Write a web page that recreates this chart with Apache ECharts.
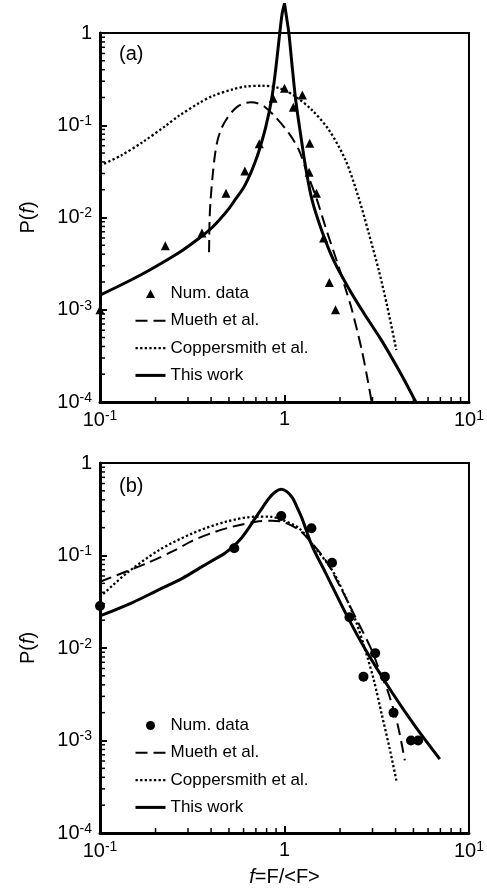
<!DOCTYPE html>
<html><head><meta charset="utf-8">
<script src="https://cdn.jsdelivr.net/npm/echarts@6/dist/echarts.min.js"></script>
<style>html,body{margin:0;padding:0;background:#fff}#c{width:487px;height:892px}</style>
</head><body><div id="c"></div>
<script>
// ---- tick values ----
const xTickValues = [0.1, 1, 10];
const yTickValues = [1e-4, 1e-3, 1e-2, 1e-1, 1];
const minorTicksX = [0.2,0.3,0.4,0.5,0.6,0.7,0.8,0.9,2,3,4,5,6,7,8,9];
const minorTicksY = [2e-4,3e-4,4e-4,5e-4,6e-4,7e-4,8e-4,9e-4,
                     2e-3,3e-3,4e-3,5e-3,6e-3,7e-3,8e-3,9e-3,
                     0.02,0.03,0.04,0.05,0.06,0.07,0.08,0.09,
                     0.2,0.3,0.4,0.5,0.6,0.7,0.8,0.9];

// ---- panel (a) ----
const numDataA = [[0.1,1.0e-3],[0.226,4.95e-3],[0.357,6.8e-3],[0.482,0.0183],[0.61,0.032],[0.73,0.063],
  [0.868,0.196],[1.0,0.252],[1.116,0.157],[1.25,0.213],[1.37,0.064],[1.36,0.031],[1.49,0.0183],
  [1.63,6.0e-3],[1.75,1.97e-3],[1.89,1.0e-3]];
const muethA = [[0.39,4.2e-3],[0.391,0.006],[0.393,0.0101],[0.398,0.016],[0.409,0.03],[0.42,0.048],
  [0.434,0.069],[0.455,0.092],[0.482,0.114],[0.52,0.14],[0.556,0.159],[0.6,0.172],[0.657,0.177],
  [0.72,0.172],[0.78,0.159],[0.89,0.124],[1.056,0.082],[1.196,0.054],[1.33,0.030],[1.5,0.0155],
  [1.7,7.0e-3],[1.97,2.9e-3],[2.14,1.7e-3],[2.32,1.0e-3],[2.62,3.7e-4],[2.8,1.9e-4],[2.97,1.0e-4]];
const copperA = [[0.1,0.0365],[0.13,0.047],[0.171,0.066],[0.229,0.1],[0.27,0.128],[0.346,0.175],
  [0.409,0.208],[0.524,0.245],[0.617,0.263],[0.76,0.268],[0.94,0.252],[1.15,0.204],[1.41,0.146],
  [1.74,0.089],[2.14,0.042],[2.52,0.0165],[2.86,6.8e-3],[3.24,2.7e-3],[3.6,1.1e-3],[4.04,3.66e-4]];
const thisWorkA_left = [[0.1,1.44e-3],[0.14,2.0e-3],[0.186,2.7e-3],[0.27,4.2e-3],[0.346,6.0e-3],
  [0.4,7.6e-3],[0.443,9.4e-3],[0.5,0.0125],[0.545,0.016],[0.6,0.021],[0.643,0.0277],[0.69,0.039],
  [0.73,0.054],[0.79,0.094],[0.85,0.188],[0.89,0.36],[0.94,0.95],[0.97,1.6],[1.0,2.1]];
const thisWorkA_right = [[1.0,2.1],[1.025,1.5],[1.056,1.0],[1.105,0.40],[1.15,0.188],[1.22,0.082],
  [1.30,0.0356],[1.41,0.0155],[1.6,7.0e-3],[1.85,3.4e-3],[2.25,1.65e-3],[2.75,8.6e-4],[3.37,4.6e-4],
  [4.2,2.15e-4],[5.15,1.0e-4]];

// ---- panel (b) ----
const numDataB = [[0.1,0.0284],[0.534,0.12],[0.96,0.267],[1.40,0.197],[1.81,0.0836],[2.25,0.0215],
  [2.68,4.9e-3],[3.1,8.8e-3],[3.5,4.9e-3],[3.9,2.0e-3],[4.85,1.0e-3],[5.3,1.0e-3]];
const muethB = [[0.1,0.052],[0.178,0.082],[0.25,0.112],[0.318,0.145],[0.42,0.18],[0.524,0.205],
  [0.70,0.232],[0.85,0.238],[0.975,0.232],[1.2,0.189],[1.36,0.147],[1.67,0.089],[2.05,0.042],
  [2.42,0.0217],[2.97,9.5e-3],[3.24,6.0e-3],[3.65,3.3e-3],[4.1,1.5e-3],[4.49,6.1e-4]];
const copperB = [[0.1,0.0355],[0.139,0.064],[0.21,0.115],[0.318,0.174],[0.482,0.232],[0.70,0.263],
  [0.85,0.262],[0.975,0.242],[1.2,0.197],[1.47,0.12],[1.81,0.0697],[2.14,0.036],[2.45,0.019],
  [2.74,9.5e-3],[3.05,4.5e-3],[3.37,1.9e-3],[3.7,8.5e-4],[4.04,3.7e-4]];
const thisWorkB = [[0.1,0.0222],[0.15,0.031],[0.2,0.041],[0.281,0.057],[0.346,0.073],[0.426,0.093],
  [0.475,0.106],[0.524,0.124],[0.58,0.152],[0.64,0.198],[0.7,0.26],[0.76,0.33],[0.82,0.41],
  [0.89,0.485],[0.96,0.52],[1.03,0.49],[1.105,0.42],[1.18,0.32],[1.25,0.246],[1.41,0.127],
  [1.67,0.065],[2.14,0.024],[2.74,9.7e-3],[3.83,3.3e-3],[5.08,1.45e-3],[6.95,6.3e-4]];

const FONT = 'Liberation Sans, Arial, Helvetica, sans-serif';
const BLACK = '#000';
const DASH = [12, 6];
const DOT = [2.3, 2.3];
const TRI_ICON = 'path://M0,0M30,9M10.5,9L15,0.5L19.5,9Z';

function expLabel(v) {
  const e = Math.round(Math.log10(v));
  if (e === 0) return '1';
  return '{b|10}{s|' + e + '}';
}
const labelRich = {
  b: {fontSize: 20, fontFamily: FONT, color: BLACK, lineHeight: 22},
  s: {fontSize: 14, fontFamily: FONT, color: BLACK, verticalAlign: 'top', lineHeight: 14}
};

function xAxisCfg(gi, withName) {
  const c = {
    type: 'log', logBase: 10, gridIndex: gi, min: xTickValues[0], max: xTickValues[xTickValues.length - 1],
    axisLine: {show: true, onZero: false, lineStyle: {color: BLACK, width: 3}},
    axisTick: {show: true, inside: true, length: 7, lineStyle: {color: BLACK, width: 2}},
    axisLabel: {formatter: expLabel, margin: 7, color: BLACK, fontFamily: FONT, fontSize: 20, rich: labelRich},
    splitLine: {show: false}
  };
  if (withName) {
    c.name = '{i|f}{n|=F/<F>}';
    c.nameLocation = 'middle';
    c.nameGap = 34;
    c.nameTextStyle = {rich: {
      i: {fontSize: 20, fontFamily: FONT, fontStyle: 'italic', color: BLACK},
      n: {fontSize: 20, fontFamily: FONT, color: BLACK}
    }};
  }
  return c;
}
function yAxisCfg(gi) {
  return {
    type: 'log', logBase: 10, gridIndex: gi, min: yTickValues[0], max: yTickValues[yTickValues.length - 1],
    axisLine: {show: true, onZero: false, lineStyle: {color: BLACK, width: 3}},
    axisTick: {show: true, inside: true, length: 7, lineStyle: {color: BLACK, width: 2}},
    axisLabel: {formatter: expLabel, margin: 8, color: BLACK, fontFamily: FONT, fontSize: 20, rich: labelRich},
    splitLine: {show: false},
    name: '{n|P(}{i|f}{n|)}', nameLocation: 'middle', nameGap: 62, nameRotate: 90,
    nameTextStyle: {rich: {
      n: {fontSize: 20, fontFamily: FONT, color: BLACK},
      i: {fontSize: 20, fontFamily: FONT, fontStyle: 'italic', color: BLACK}
    }}
  };
}

function tickSeries(gi) {
  const data = minorTicksX.map(v => [v, yTickValues[0], 0])
    .concat(minorTicksY.map(v => [xTickValues[0], v, 1]));
  return {
    type: 'custom', xAxisIndex: gi, yAxisIndex: gi, data: data, clip: false, silent: true, z: 5,
    encode: {x: 0, y: 1},
    renderItem: function (params, api) {
      const p = api.coord([api.value(0), api.value(1)]);
      const k = api.value(2);
      const len = 5;
      return {
        type: 'line',
        shape: k === 0 ? {x1: p[0], y1: p[1], x2: p[0], y2: p[1] - len}
                       : {x1: p[0], y1: p[1], x2: p[0] + len, y2: p[1]},
        style: {stroke: BLACK, lineWidth: 1.5}
      };
    }
  };
}

function lineS(name, data, gi, width, type, extra) {
  return Object.assign({
    name: name, type: 'line', xAxisIndex: gi, yAxisIndex: gi, data: data,
    symbol: 'none', smooth: 0.3,
    lineStyle: {color: BLACK, width: width, type: type, cap: 'butt'},
    itemStyle: {color: BLACK}, z: 3
  }, extra || {});
}
function scatterS(name, data, gi, symbol) {
  return {
    name: name, type: 'scatter', xAxisIndex: gi, yAxisIndex: gi, data: data,
    symbol: symbol, symbolSize: symbol === 'triangle' ? 9 : 10,
    itemStyle: {color: BLACK, opacity: 1}, z: 4
  };
}

function legendCfg(top, icon) {
  const hidden = {color: 'rgba(0,0,0,0)', borderWidth: 0, opacity: 0};
  return {
    orient: 'vertical', left: 134, top: top, itemWidth: 30, itemHeight: 9, itemGap: 10.3, padding: 0,
    selectedMode: false, inactiveColor: BLACK,
    textStyle: {fontSize: 17, fontFamily: FONT, color: BLACK, lineHeight: 17},
    data: [
      {name: 'Num. data', icon: icon, itemStyle: {color: BLACK}},
      {name: 'Mueth et al.', itemStyle: hidden, lineStyle: {width: 2, type: DASH, color: BLACK}},
      {name: 'Coppersmith et al.', itemStyle: hidden, lineStyle: {width: 2.3, type: DOT, color: BLACK}},
      {name: 'This work', itemStyle: hidden, lineStyle: {width: 3, type: 'solid', color: BLACK}}
    ]
  };
}

const chart = echarts.init(document.getElementById('c'), null, {renderer: 'canvas'});
chart.setOption({
  animation: false,
  backgroundColor: '#fff',
  grid: [
    {left: 100, top: 33, width: 371, height: 369, show: true, borderColor: BLACK, borderWidth: 2, backgroundColor: 'transparent'},
    {left: 100, top: 463, width: 371, height: 370, show: true, borderColor: BLACK, borderWidth: 2, backgroundColor: 'transparent'}
  ],
  xAxis: [xAxisCfg(0, false), xAxisCfg(1, true)],
  yAxis: [yAxisCfg(0), yAxisCfg(1)],
  legend: [legendCfg(285, TRI_ICON), legendCfg(717, 'circle')],
  graphic: [
    {type: 'text', left: 119, top: 44, style: {text: '(a)', font: '20px ' + FONT, fill: BLACK}},
    {type: 'text', left: 119, top: 476, style: {text: '(b)', font: '20px ' + FONT, fill: BLACK}}
  ],
  series: [
    tickSeries(0), tickSeries(1),
    scatterS('Num. data', numDataA, 0, 'triangle'),
    lineS('Mueth et al.', muethA, 0, 2, DASH),
    lineS('Coppersmith et al.', copperA, 0, 2.3, DOT),
    lineS('This work', thisWorkA_left, 0, 3, 'solid', {clip: false}),
    lineS('This work', thisWorkA_right, 0, 3, 'solid', {clip: false}),
    scatterS('Num. data', numDataB, 1, 'circle'),
    lineS('Mueth et al.', muethB, 1, 2, DASH),
    lineS('Coppersmith et al.', copperB, 1, 2.3, DOT),
    lineS('This work', thisWorkB, 1, 3, 'solid')
  ]
});
</script>
</body></html>
